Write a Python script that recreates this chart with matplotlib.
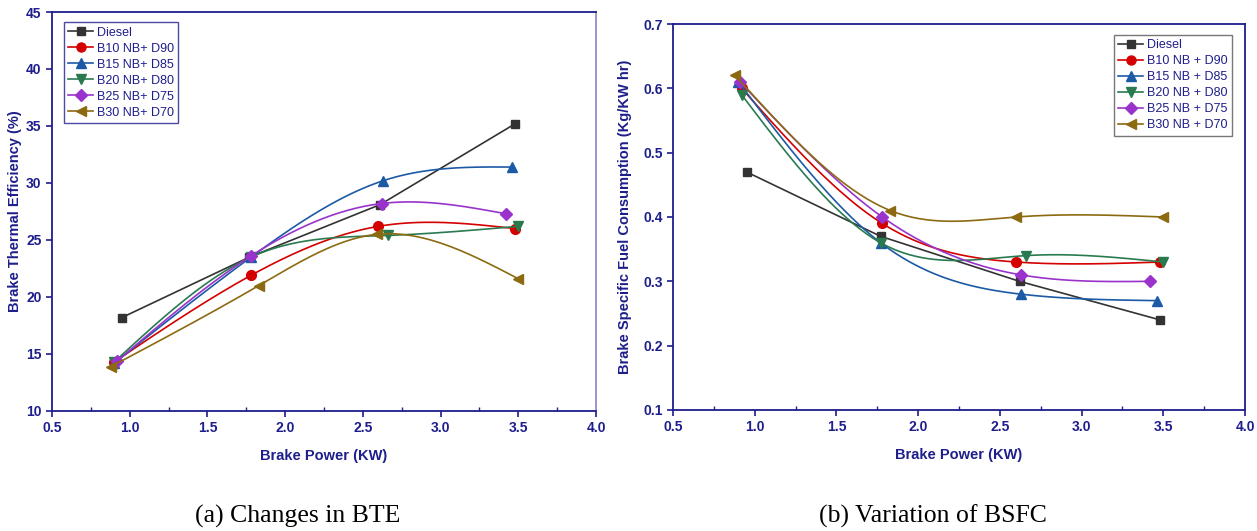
import numpy as np
import matplotlib
matplotlib.use("Agg")
import matplotlib.pyplot as plt
from matplotlib.ticker import MultipleLocator

plt.rcParams['font.family'] = ['Liberation Sans', 'DejaVu Sans']

# Brake power (KW) and measured values for each fuel blend
fuels = ["Diesel", "B10", "B15", "B20", "B25", "B30"]
bte_labels = ["Diesel", "B10 NB+ D90", "B15 NB+ D85", "B20 NB+ D80",
              "B25 NB+ D75", "B30 NB+ D70"]
bsfc_labels = ["Diesel", "B10 NB + D90", "B15 NB + D85", "B20 NB + D80",
               "B25 NB + D75", "B30 NB + D70"]

bte_power = {
    "Diesel": [0.95, 1.77, 2.61, 3.48],
    "B10": [0.90, 1.78, 2.60, 3.48],
    "B15": [0.90, 1.78, 2.63, 3.46],
    "B20": [0.90, 1.78, 2.66, 3.50],
    "B25": [0.92, 1.78, 2.62, 3.42],
    "B30": [0.88, 1.83, 2.59, 3.50],
}
bte = {
    "Diesel": [18.2, 23.5, 28.1, 35.2],
    "B10": [14.3, 21.9, 26.2, 26.0],
    "B15": [14.2, 23.5, 30.2, 31.4],
    "B20": [14.3, 23.5, 25.4, 26.2],
    "B25": [14.4, 23.6, 28.2, 27.3],
    "B30": [13.9, 21.0, 25.5, 21.6],
}

bsfc_power = {
    "Diesel": [0.95, 1.77, 2.62, 3.48],
    "B10": [0.92, 1.78, 2.60, 3.48],
    "B15": [0.90, 1.77, 2.63, 3.46],
    "B20": [0.92, 1.77, 2.66, 3.50],
    "B25": [0.91, 1.78, 2.63, 3.42],
    "B30": [0.88, 1.83, 2.60, 3.50],
}
bsfc = {
    "Diesel": [0.47, 0.37, 0.30, 0.24],
    "B10": [0.60, 0.39, 0.33, 0.33],
    "B15": [0.61, 0.36, 0.28, 0.27],
    "B20": [0.59, 0.36, 0.34, 0.33],
    "B25": [0.61, 0.40, 0.31, 0.30],
    "B30": [0.62, 0.41, 0.40, 0.40],
}

colors = {"Diesel": "#333333", "B10": "#d40000", "B15": "#1c5aa6",
          "B20": "#2a7a50", "B25": "#9933cc", "B30": "#8c6a10"}
markers = {"Diesel": "s", "B10": "o", "B15": "^", "B20": "v",
           "B25": "D", "B30": "<"}
msize = {"Diesel": 6, "B10": 7, "B15": 7, "B20": 7, "B25": 6.5, "B30": 7.5}

navy = "#1e1e8c"


def spline(x, y, n=200):
    # natural cubic spline through the points
    x = np.asarray(x, float)
    y = np.asarray(y, float)
    k = len(x)
    h = np.diff(x)
    A = np.zeros((k, k))
    r = np.zeros(k)
    A[0, 0] = A[-1, -1] = 1
    for i in range(1, k - 1):
        A[i, i - 1] = h[i - 1]
        A[i, i] = 2 * (h[i - 1] + h[i])
        A[i, i + 1] = h[i]
        r[i] = 3 * ((y[i + 1] - y[i]) / h[i] - (y[i] - y[i - 1]) / h[i - 1])
    c = np.linalg.solve(A, r)
    xs = np.linspace(x[0], x[-1], n)
    idx = np.clip(np.searchsorted(x, xs) - 1, 0, k - 2)
    dx = xs - x[idx]
    b = (y[1:] - y[:-1]) / h - h * (2 * c[:-1] + c[1:]) / 3
    d = (c[1:] - c[:-1]) / (3 * h)
    ys = y[idx] + b[idx] * dx + c[idx] * dx ** 2 + d[idx] * dx ** 3
    return xs, ys


def draw(ax, power, vals, labels):
    for f, lab in zip(fuels, labels):
        x, y = power[f], vals[f]
        if f == "Diesel":
            ax.plot(x, y, color=colors[f], lw=1.2)
        else:
            xs, ys = spline(x, y)
            ax.plot(xs, ys, color=colors[f], lw=1.2)
        ax.plot(x, y, ls="none", marker=markers[f], ms=msize[f],
                color=colors[f])
        # legend proxy: line + marker
        ax.plot([], [], color=colors[f], lw=1.2, marker=markers[f],
                ms=msize[f] - 0.5, label=lab)


def style(ax):
    for s in ["left", "bottom", "top"]:
        ax.spines[s].set_color(navy)
        ax.spines[s].set_linewidth(1.3)
    ax.spines["right"].set_color("#9090cc")
    ax.spines["right"].set_linewidth(1.3)
    ax.xaxis.set_major_locator(MultipleLocator(0.5))
    ax.xaxis.set_minor_locator(MultipleLocator(0.25))
    ax.tick_params(axis="both", which="major", direction="out", length=4,
                   width=1.2, color=navy, labelcolor=navy, labelsize=10)
    ax.tick_params(axis="x", which="minor", direction="in", length=3,
                   width=1, color=navy)
    for t in ax.get_xticklabels() + ax.get_yticklabels():
        t.set_fontweight("bold")
    ax.set_xlabel("Brake Power (KW)", fontsize=10.5, fontweight="bold",
                  color=navy, labelpad=10)


fig = plt.figure(figsize=(12.57, 5.31), dpi=100)

ax1 = fig.add_axes([0.0414, 0.226, 0.4328, 0.7514])
draw(ax1, bte_power, bte, bte_labels)
ax1.set_xlim(0.5, 4.0)
ax1.set_ylim(10, 45)
ax1.yaxis.set_major_locator(MultipleLocator(5))
style(ax1)
ax1.set_ylabel("Brake Thermal Efficiency (%)", fontsize=10.5,
               fontweight="bold", color=navy, labelpad=3)
leg1 = ax1.legend(loc="upper left", bbox_to_anchor=(0.01, 0.99),
                  fontsize=9, frameon=True, fancybox=False,
                  handlelength=2.0, handletextpad=0.3, labelspacing=0.32,
                  borderpad=0.35, labelcolor=navy)
leg1.get_frame().set_edgecolor(navy)
leg1.get_frame().set_linewidth(1.0)

ax2 = fig.add_axes([0.5354, 0.2279, 0.4551, 0.7269])
draw(ax2, bsfc_power, bsfc, bsfc_labels)
ax2.set_xlim(0.5, 4.0)
ax2.set_ylim(0.1, 0.7)
ax2.yaxis.set_major_locator(MultipleLocator(0.1))
style(ax2)
ax2.spines["right"].set_color(navy)
ax2.set_ylabel("Brake Specific Fuel Consumption (Kg/KW hr)", fontsize=10.5,
               fontweight="bold", color=navy, labelpad=8)
leg2 = ax2.legend(loc="upper right", bbox_to_anchor=(0.988, 0.988),
                  fontsize=9, frameon=True, fancybox=False,
                  handlelength=2.0, handletextpad=0.3, labelspacing=0.32,
                  borderpad=0.35, labelcolor=navy)
leg2.get_frame().set_edgecolor("#555555")
leg2.get_frame().set_linewidth(1.0)

fig.text(0.237, 0.028, "(a) Changes in BTE", fontsize=18.5,
         family="Liberation Serif", ha="center", va="center")
fig.text(0.742, 0.028, "(b) Variation of BSFC", fontsize=18.5,
         family="Liberation Serif", ha="center", va="center")

fig.savefig("out.png", dpi=100)
